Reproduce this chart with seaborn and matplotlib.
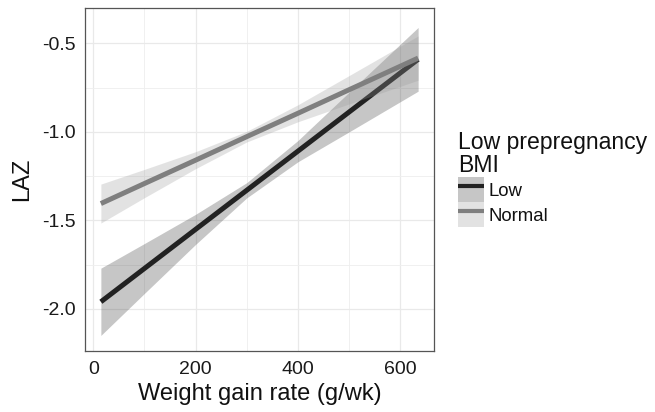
import numpy as np
import pandas as pd
import matplotlib
matplotlib.use("Agg")
import matplotlib.pyplot as plt
from matplotlib.patches import Patch
from matplotlib.lines import Line2D
from matplotlib.legend_handler import HandlerTuple
import seaborn as sns

# ---- data ----
groups = ["Low", "Normal"]
x_points = [15, 100, 200, 300, 400, 500, 635]
low_fit = [-1.96, -1.772, -1.551, -1.330, -1.109, -0.888, -0.59]
low_halfwidth = [0.19, 0.141, 0.085, 0.043, 0.060, 0.112, 0.18]
normal_fit = [-1.405, -1.292, -1.160, -1.027, -0.895, -0.762, -0.583]
normal_halfwidth = [0.11, 0.080, 0.048, 0.030, 0.048, 0.080, 0.125]
x_ticks = [0, 200, 400, 600]
y_ticks = [-2.0, -1.5, -1.0, -0.5]
y_ticklabels = ["-2.0", "-1.5", "-1.0", "-0.5"]

line_colors = {"Low": "#222222", "Normal": "#7f7f7f"}
band_colors = {"Low": "#333333", "Normal": "#999999"}
band_alpha = 0.28

df = pd.DataFrame({
    "x": x_points * 2,
    "fit": low_fit + normal_fit,
    "hw": low_halfwidth + normal_halfwidth,
    "group": ["Low"] * len(x_points) + ["Normal"] * len(x_points),
})
df["lo"] = df["fit"] - df["hw"]
df["hi"] = df["fit"] + df["hw"]

sns.set_theme(style="white")
plt.rcParams["font.family"] = ["Liberation Sans", "DejaVu Sans"]

fig = plt.figure(figsize=(6.55, 4.12), dpi=100)
ax = fig.add_axes([85 / 655, 1 - 351 / 412, (434 - 85) / 655, (351 - 8) / 412])

for i, g in enumerate(groups):
    sub = df[df["group"] == g]
    ax.fill_between(sub["x"], sub["lo"], sub["hi"], color=band_colors[g],
                    alpha=band_alpha, linewidth=0, zorder=2 + 2 * i)
    sns.lineplot(data=sub, x="x", y="fit", color=line_colors[g], linewidth=3.6,
                 ax=ax, zorder=3 + 2 * i, legend=False, solid_capstyle="butt")

ax.set_xlim(-16, 666)
ax.set_ylim(-2.238, -0.30)
ax.set_xticks(x_ticks)
ax.set_xticklabels([str(v) for v in x_ticks])
ax.set_yticks(y_ticks)
ax.set_yticklabels(y_ticklabels)
ax.set_xticks([100, 300, 500], minor=True)
ax.set_yticks([-1.75, -1.25, -0.75], minor=True)

ax.grid(which="major", color="#e9e9e9", linewidth=0.9, zorder=0)
ax.grid(which="minor", color="#eeeeee", linewidth=0.6, zorder=0)
ax.set_axisbelow(True)

for s in ax.spines.values():
    s.set_color("#555555")
    s.set_linewidth(0.9)
    s.set_visible(True)

ax.tick_params(axis="both", which="major", direction="out", length=4, width=0.8,
               color="#444444", labelsize=14, labelcolor="#1a1a1a", pad=3)
ax.tick_params(axis="both", which="minor", length=0)

ax.set_xlabel("Weight gain rate (g/wk)", fontsize=17, color="#111111", labelpad=4)
ax.set_ylabel("LAZ", fontsize=17, color="#111111", labelpad=6)

handles = []
for g in groups:
    p = Patch(facecolor=band_colors[g], alpha=band_alpha, edgecolor="none")
    l = Line2D([], [], color=line_colors[g], linewidth=3.0, solid_capstyle="butt")
    handles.append((p, l))

leg = fig.legend(handles, groups, handler_map={tuple: HandlerTuple(ndivide=1, pad=0)},
                 loc="upper left", bbox_to_anchor=(458 / 655, 1 - 131 / 412),
                 frameon=False, fontsize=13.4, title="Low prepregnancy\nBMI",
                 title_fontsize=16.6, handlelength=1.4, handleheight=1.7,
                 labelspacing=0.0, handletextpad=0.25, borderpad=0, borderaxespad=0,
                 alignment="left")
leg.get_title().set_color("#111111")
leg.get_title().set_linespacing(1.0)
for t in leg.get_texts():
    t.set_color("#111111")

fig.savefig("out.png", dpi=100)
